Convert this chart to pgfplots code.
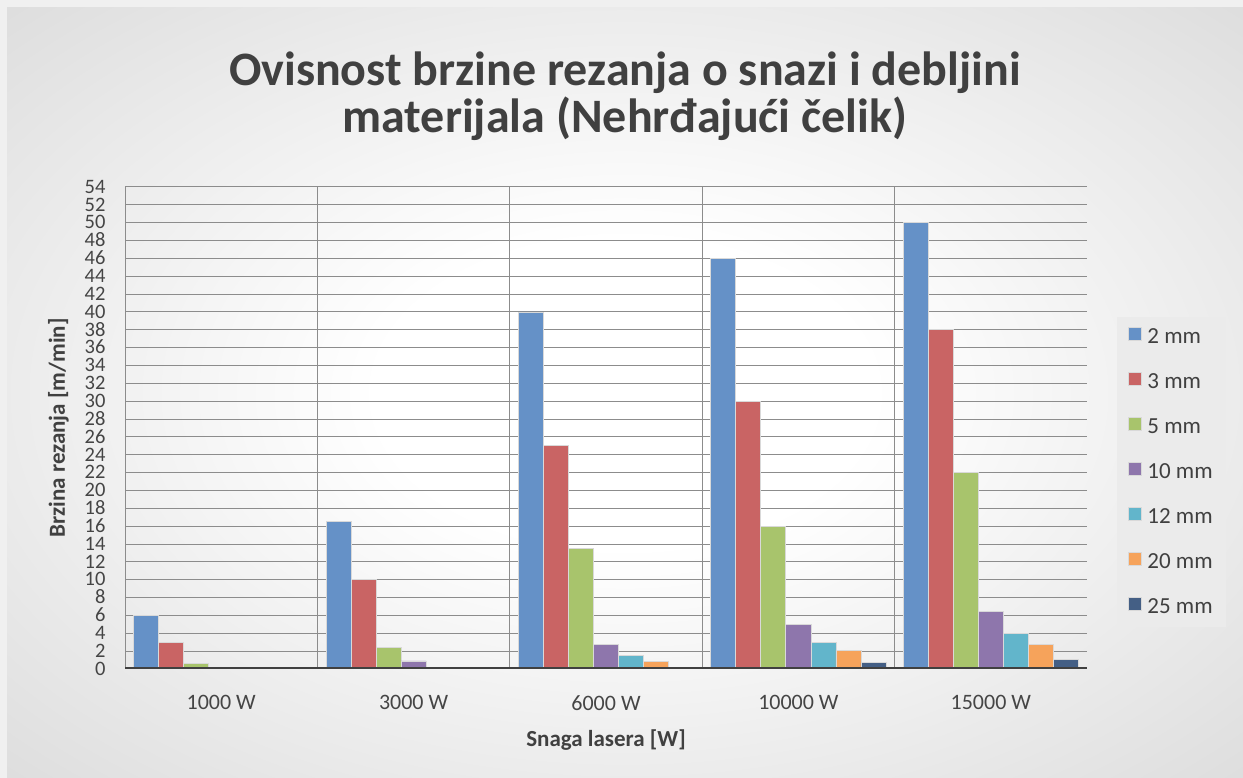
\documentclass[border=0pt]{standalone}
\usepackage{pgfplots}
\pgfplotsset{compat=1.18}
\usepackage{fontspec}
\setmainfont{Carlito}
\definecolor{c1}{HTML}{6591C7}
\definecolor{c2}{HTML}{C96464}
\definecolor{c3}{HTML}{A8C46C}
\definecolor{c4}{HTML}{8E76AC}
\definecolor{c5}{HTML}{62B5CB}
\definecolor{c6}{HTML}{F6A35B}
\definecolor{c7}{HTML}{445F85}
\definecolor{txt}{HTML}{454545}
\definecolor{ttl}{HTML}{404040}
\pgfdeclareradialshading{bgshade}{\pgfpoint{0bp}{0bp}}{color(0bp)=(white); color(10bp)=(white); color(45bp)=(black!18); color(50bp)=(black!21)}
\begin{document}
\begin{tikzpicture}
\fill[black!6] (0pt,0pt) rectangle (1243pt,778pt);
\shade[shading=bgshade] (7pt,0pt) rectangle (1243pt,770pt);
\node[font=\fontsize{48}{47}\selectfont\bfseries, text=ttl, align=center] at (625pt,682pt) {Ovisnost brzine rezanja o snazi i debljini\\materijala (Nehrđajući čelik)};
\begin{axis}[
  at={(125pt,109pt)}, anchor=south west,
  scale only axis, width=962pt, height=482pt,
  ybar=0pt, bar width=0.13,
  xmin=-0.5, xmax=4.5, ymin=0, ymax=54,
  xtick={0,1,2,3,4},
  xticklabels={1000 W,3000 W,6000 W,10000 W,15000 W},
  minor xtick={0.5,1.5,2.5,3.5},
  xminorgrids=true,
  minor x grid style={black!45, line width=1pt},
  ytick={0,2,...,54},
  ymajorgrids=true,
  major y grid style={black!45, line width=1pt},
  major tick length=0pt, minor tick length=0pt,
  axis line style={draw=none},
  /pgf/number format/assume math mode=true,
  tick label style={font=\fontsize{22}{22}\selectfont, text=txt},
  xticklabel style={yshift=-23pt},
  yticklabel style={font=\fontsize{20.5}{20.5}\selectfont, xshift=-16pt, text height=12.5pt, text depth=0pt, inner ysep=1pt},
  xlabel={Snaga lasera [W]},
  ylabel={Brzina rezanja [m/min]},
  xlabel style={font=\fontsize{23}{24}\selectfont\bfseries, text=ttl, yshift=-12pt},
  ylabel style={font=\fontsize{23}{24}\selectfont\bfseries, text=ttl, yshift=9pt},
  legend style={at={(1.031,0.087)}, anchor=south west, fill=black!8, draw=none,
    font=\fontsize{23}{24}\selectfont, text=ttl, row sep=24.5pt, inner xsep=11pt, inner ysep=10pt},
  legend cell align=left,
  legend image code/.code={\fill[#1] (0pt,-3.5pt) rectangle (13pt,9.5pt); \path[draw=none,fill=none] (0pt,0pt) -- (17pt,0pt);},
  every axis plot/.append style={draw=white!85!black, line width=0.8pt},
]
\addplot[fill=c1] coordinates {(0,6) (1,16.5) (2,40) (3,46) (4,50)};
\addplot[fill=c2] coordinates {(0,3) (1,10) (2,25) (3,30) (4,38)};
\addplot[fill=c3] coordinates {(0,0.6) (1,2.4) (2,13.5) (3,16) (4,22)};
\addplot[fill=c4] coordinates {(0,0) (1,0.9) (2,2.7) (3,5) (4,6.4)};
\addplot[fill=c5] coordinates {(0,0) (1,0) (2,1.5) (3,3) (4,4)};
\addplot[fill=c6] coordinates {(0,0) (1,0) (2,0.8) (3,2.1) (4,2.7)};
\addplot[fill=c7] coordinates {(0,0) (1,0) (2,0) (3,0.7) (4,1.1)};
\legend{2 mm,3 mm,5 mm,10 mm,12 mm,20 mm,25 mm}
\draw[black!45, line width=1.5pt] (axis cs:-0.5,0) -- (axis cs:-0.5,54);
\draw[black!75, line width=3pt] (axis cs:-0.5,0) -- (axis cs:4.5,0);
\end{axis}
\end{tikzpicture}
\end{document}
